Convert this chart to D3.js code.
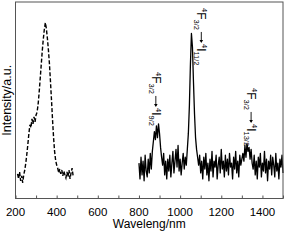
<!DOCTYPE html>
<html>
<head>
<meta charset="utf-8">
<script src="https://cdn.jsdelivr.net/npm/d3@7"></script>
<style>
  body { margin: 0; background: #fff; }
  svg { display: block; font-family: "Liberation Sans", Arial, sans-serif; }
</style>
</head>
<body>
<svg id="chart" width="285" height="241"></svg>
<script>
// excitation spectrum (dashed), sampled every 5 nm from 210 nm
const excStart = 210, excStep = 5
const excValues = [12.5,10,13.5,9,11.5,8,12,14.5,18,22.5,27.5,33,37.5,36,40.5,38,41.5,39,42.5,44,
  48,54,61,68,75,81,86,89.5,86.5,81.5,75.5,68.5,59.5,50,40,31,24,19.5,17,15.5,
  13,15,12.5,14.5,11.5,14,12,10.5,13.5,11,14.5,10,13,15.5,11.5]

// emission spectrum (solid), sampled every 5 nm from 800 nm
const emStart = 800, emStep = 5
const emValues = [18,10,21,12,19,9,22,14,11,20,13,23,15,
  24,29,34,30,37,31,38,33,26,
  21,17,23,12,19,10,20,14,22,11,18,24,13,19,25,16,27,14,20,12,18,23,15,21,17,25,
  33,47,68,84,77,59,43,31,25,21,17,
  22,13,19,10,21,15,23,12,18,9,20,14,24,11,19,16,22,10,17,21,13,25,15,19,11,22,14,20,12,23,16,18,10,21,15,24,13,19,11,22,17,20,
  23,19,27,21,28,24,26,20,25,18,
  15,22,12,19,10,21,16,23,11,18,14,24,13,20,9,19,15,22,12,21,17,11,23,14,18,10,20,16,22,13]

const xTicks = [200,300,400,500,600,700,800,900,1000,1100,1200,1300,1400,1500]
const xLabels = [200,400,600,800,1000,1200,1400]

// transition labels: wavelength they sit at and the lower level
const transWl = [882, 1103, 1345]
const transLevel = ["9/2", "11/2", "13/2"]
const transTop = [72, 8, 88]

const svg = d3.select("#chart")
const plot = {left: 15.5, right: 283, top: 2, bottom: 198.5}

const x = d3.scaleLinear().domain([200, 1500]).range([plot.left, plot.right])
const y = d3.scaleLinear().domain([0, 100]).range([plot.bottom, plot.top])

const excData = excValues.map((v, i) => [excStart + i*excStep, v])
const emData = emValues.map((v, i) => [emStart + i*emStep, v])

const line = d3.line().x(d => x(d[0])).y(d => y(d[1]))

svg.append("path")
  .datum(excData)
  .attr("d", line)
  .attr("fill", "none")
  .attr("stroke", "#000")
  .attr("stroke-width", 1.4)
  .attr("stroke-dasharray", "4,2")

svg.append("path")
  .datum(emData)
  .attr("d", line)
  .attr("fill", "none")
  .attr("stroke", "#000")
  .attr("stroke-width", 1.3)
  .attr("stroke-linejoin", "round")

// frame
svg.append("rect")
  .attr("x", plot.left).attr("y", plot.top)
  .attr("width", plot.right - plot.left).attr("height", plot.bottom - plot.top)
  .attr("fill", "none")
  .attr("stroke", "#555")
  .attr("stroke-width", 1)

// bottom axis, ticks pointing in
const xAxis = svg.append("g")
  .attr("transform", "translate(0," + plot.bottom + ")")
  .call(d3.axisBottom(x).tickValues(xTicks).tickSizeInner(-3).tickSizeOuter(0).tickFormat(""))
xAxis.select(".domain").remove()
xAxis.selectAll(".tick line").attr("stroke", "#555")

svg.append("g").selectAll("text")
  .data(xLabels)
  .enter().append("text")
  .attr("x", d => x(d))
  .attr("y", 216)
  .attr("text-anchor", "middle")
  .style("font-size", "11.5px")
  .text(d => d)

svg.append("text")//x title
  .attr("x", (plot.left + plot.right)/2)
  .attr("y", 228)
  .attr("text-anchor", "middle")
  .style("font-size", "12px")
  .text("Waveleng/nm")

svg.append("text")//y title
  .attr("transform", "translate(10.5," + (plot.top + plot.bottom)/2 + ") rotate(-90)")
  .attr("text-anchor", "middle")
  .style("font-size", "12.5px")
  .text("Intensity/a.u.")

// rotated transition labels, arrow drawn as a line between the two terms
transWl.forEach(function(wl, i) {
  const g = svg.append("g")
    .attr("transform", "translate(" + (x(wl) - 4) + "," + transTop[i] + ") rotate(90)")
  const t1 = g.append("text")
  t1.append("tspan").attr("dy", -4.5).style("font-size", "7.5px").text("4")
  t1.append("tspan").attr("dy", 4.5).style("font-size", "12px").text("F")
  t1.append("tspan").attr("dy", 3).style("font-size", "7.5px").text("3/2")
  const len = t1.node().getComputedTextLength()
  const a0 = len + 2, a1 = len + 13
  g.append("line")
    .attr("x1", a0).attr("x2", a1 - 1)
    .attr("y1", -4).attr("y2", -4)
    .attr("stroke", "#000").attr("stroke-width", 0.9)
  g.append("path")
    .attr("d", "M" + (a1 - 3) + "," + (-5.8) + "L" + a1 + "," + (-4) + "L" + (a1 - 3) + "," + (-2.2) + "Z")
    .attr("fill", "#000")
  const t2 = g.append("text").attr("x", a1 + 1)
  t2.append("tspan").attr("dy", -4.5).style("font-size", "7.5px").text("4")
  t2.append("tspan").attr("dy", 4.5).style("font-size", "12px").text("I")
  t2.append("tspan").attr("dy", 3).style("font-size", "7.5px").text(transLevel[i])
})
</script>
</body>
</html>
